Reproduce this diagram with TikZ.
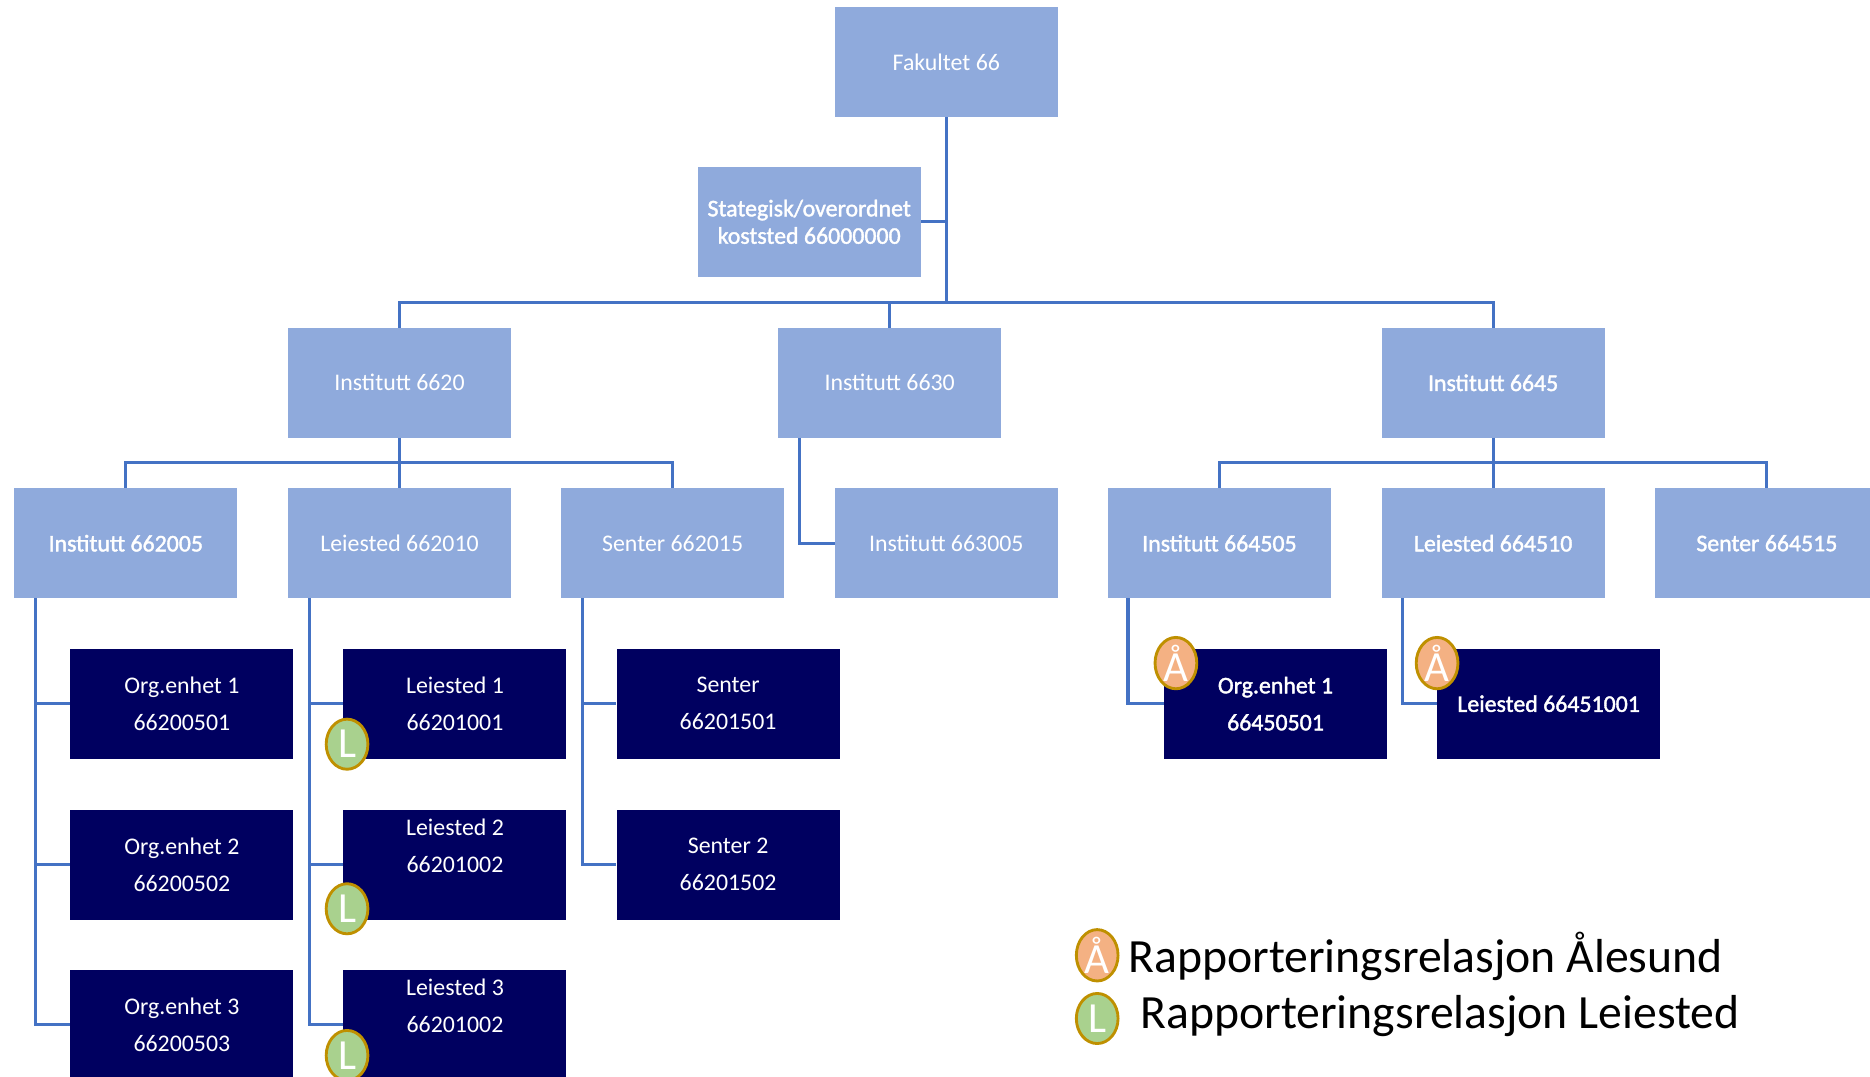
\documentclass[tikz,border=0pt]{standalone}
\usepackage{fontspec}
\setmainfont{Carlito}
\newfontfamily\halvfet[FakeBold=1.6]{Carlito}
\usetikzlibrary{shapes.geometric}

\definecolor{lysblaa}{HTML}{8FAADC}
\definecolor{morkblaa}{HTML}{000060}
\definecolor{linje}{HTML}{4472C4}
\definecolor{gull}{HTML}{BF9000}
\definecolor{gronn}{HTML}{A9D18E}
\definecolor{oransje}{HTML}{F4B183}

\begin{document}
\begin{tikzpicture}[x=1pt,y=-1pt]
			\useasboundingbox (0,0) rectangle (1568,903);
			\clip (0,0) rectangle (1568,903);
			\tikzset{
			Enhet/.style = {rectangle, fill=lysblaa, text=white,
				minimum width=187pt, minimum height=92pt, inner sep=0pt,
				align=center, font=\fontsize{20}{23}\selectfont},
			Under/.style = {Enhet, fill=morkblaa, font=\fontsize{20}{31}\selectfont},
			Fet/.style = {font=\fontsize{20}{31}\selectfont\halvfet},
			Merke/.style = {ellipse, draw=gull, line width=2.4pt, minimum width=35pt,
				minimum height=42pt, inner sep=0pt, text=white,
				font=\fontsize{36}{36}\selectfont},
			Kant/.style = {draw=linje, line width=2.6pt}}
			
			\node[Enhet] (fak) at (793.5,52) {Fakultet 66};
			\node[Enhet, font=\fontsize{20}{23}\selectfont\halvfet] (strat) at (678.5,186) {Stategisk/overordnet\\koststed 66000000};
			
			\node[Enhet] (i6620) at (335,321) {Institutt 6620};
			\node[Enhet] (i6630) at (746,321) {Institutt 6630};
			\node[Enhet, Fet] (i6645) at (1252,321) {Institutt 6645};
			
			\node[Enhet, Fet] (i662005) at (105.5,455.5) {Institutt 662005};
			\node[Enhet] (l662010) at (335,455.5) {Leiested 662010};
			\node[Enhet] (s662015) at (564,455.5) {Senter 662015};
			\node[Enhet] (i663005) at (793.5,455.5) {Institutt 663005};
			\node[Enhet, Fet] (i664505) at (1022.5,455.5) {Institutt 664505};
			\node[Enhet, Fet] (l664510) at (1252,455.5) {Leiested 664510};
			\node[Enhet, Fet] (s664515) at (1481.5,455.5) {Senter 664515};
			
			\node[Under] (org1) at (152.5,590) {Org.enhet 1\\66200501};
			\node[Under] (org2) at (152.5,725) {Org.enhet 2\\66200502};
			\node[Under] (org3) at (152.5,859) {Org.enhet 3\\66200503};
			\node[Under] (leie1) at (381.5,590) {Leiested 1\\66201001};
			\node[Under] (leie2) at (381.5,725) {Leiested 2\\66201002\\\mbox{}};
			\node[Under] (leie3) at (381.5,859) {Leiested 3\\66201002\\\mbox{}};
			\node[Under] (sent1) at (610.5,590) {Senter\\66201501};
			\node[Under] (sent2) at (610.5,725) {Senter 2\\66201502};
			\node[Under, Fet] (org4505) at (1069.5,590) {Org.enhet 1\\66450501};
			\node[Under, Fet] (leie4510) at (1298.5,590) {Leiested 66451001};
			
			\coordinate (fakbus) at (793.5,254);
			\draw[Kant] (fak) -- (fakbus);
			\draw[Kant] (strat.east) -- (strat.east -| fak.south);
			\draw[Kant] (fakbus) -| (i6620);
			\draw[Kant] (fakbus) -| (i6630);
			\draw[Kant] (fakbus) -| (i6645);
			
			\coordinate (bus6620) at (335,388);
			\draw[Kant] (i6620) -- (l662010);
			\draw[Kant] (bus6620) -| (i662005);
			\draw[Kant] (bus6620) -| (s662015);
			\draw[Kant] ([xshift=18pt]i6630.south west) |- (i663005);
			\coordinate (bus6645) at (1252,388);
			\draw[Kant] (i6645) -- (l664510);
			\draw[Kant] (bus6645) -| (i664505);
			\draw[Kant] (bus6645) -| (s664515);
			
			\draw[Kant] ([xshift=18pt]i662005.south west) |- (org1);
			\draw[Kant] ([xshift=18pt]i662005.south west) |- (org2);
			\draw[Kant] ([xshift=18pt]i662005.south west) |- (org3);
			\draw[Kant] ([xshift=18pt]l662010.south west) |- (leie1);
			\draw[Kant] ([xshift=18pt]l662010.south west) |- (leie2);
			\draw[Kant] ([xshift=18pt]l662010.south west) |- (leie3);
			\draw[Kant] ([xshift=18pt]s662015.south west) |- (sent1);
			\draw[Kant] ([xshift=18pt]s662015.south west) |- (sent2);
			\draw[Kant] ([xshift=17pt]i664505.south west) |- (org4505);
			\draw[Kant] ([xshift=18pt]l664510.south west) |- (leie4510);
			
			\node[Merke, fill=gronn] (mL1) at (291,624) {L};
			\node[Merke, fill=gronn] (mL2) at (291,762) {L};
			\node[Merke, fill=gronn] (mL3) at (291,885) {L};
			\node[Merke, fill=oransje] (mA1) at (986,556) {Å};
			\node[Merke, fill=oransje] (mA2) at (1205,556) {Å};
			
			\node[Merke, fill=oransje] (tegnA) at (920,801) {Å};
			\node[Merke, fill=gronn] (tegnL) at (920,854) {L};
			\node[anchor=west, inner sep=0pt, font=\fontsize{40}{40}\selectfont] (forklA) at (946,802) {Rapporteringsrelasjon Ålesund};
			\node[anchor=west, inner sep=0pt, font=\fontsize{40}{40}\selectfont] (forklL) at (956,852) {Rapporteringsrelasjon Leiested};
\end{tikzpicture}
\end{document}
